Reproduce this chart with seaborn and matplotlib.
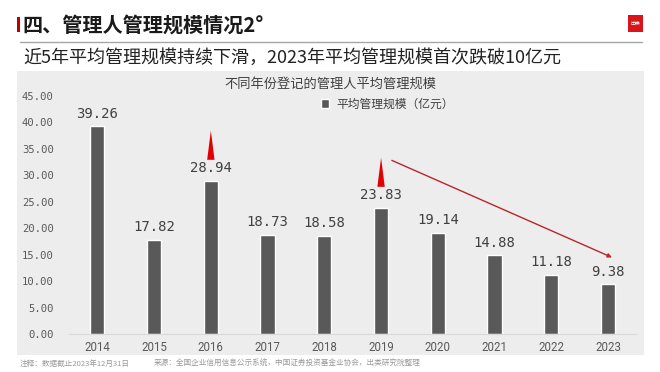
import numpy as np
import pandas as pd
import matplotlib
matplotlib.use('Agg')
import matplotlib.pyplot as plt
import seaborn as sn
from matplotlib.patches import Rectangle

# data
years = ['2014', '2015', '2016', '2017', '2018', '2019', '2020', '2021', '2022', '2023']
avg_scale = [39.26, 17.82, 28.94, 18.73, 18.58, 23.83, 19.14, 14.88, 11.18, 9.38]
peak_years = ['2016', '2019']
trend_from, trend_to = '2019', '2023'
y_ticks = [0, 5, 10, 15, 20, 25, 30, 35, 40, 45]

title = '四、管理人管理规模情况2°'
subtitle = '近5年平均管理规模持续下滑，2023年平均管理规模首次跌破10亿元'
chart_title = '不同年份登记的管理人平均管理规模'
series_name = '平均管理规模（亿元）'
note_text = '注释：数据截止2023年12月31日'
source_text = '来源：全国企业信用信息公示系统，中国证券投资基金业协会，出类研究院整理'

df = pd.DataFrame({'year': years, 'value': avg_scale})

sn.set_style('white')
plt.rcParams['font.family'] = ['DejaVu Sans', 'Noto Sans CJK SC']
CJK = ['Noto Sans CJK SC', 'DejaVu Sans']

W, H = 660, 372
fig = plt.figure(figsize=(W / 100, H / 100), dpi=100)
fig.patch.set_facecolor('white')


def fx(x):
    return x / W


def fy(y):
    return 1 - y / H


# gray panel behind the chart
fig.patches.append(Rectangle((fx(17), fy(355)), fx(644) - fx(17), fy(70.7) - fy(355),
                             transform=fig.transFigure, facecolor='#ededed', edgecolor='none', zorder=-10))

ax = fig.add_axes([fx(69), fy(334), fx(636.4) - fx(69), fy(96) - fy(334)])
ax.set_facecolor('none')
ax.set_zorder(2)

sn.barplot(data=df, x='year', y='value', color='#595959', width=0.25, saturation=1,
           label=series_name, ax=ax)
if ax.get_legend() is not None:
    ax.get_legend().remove()

ax.set_ylim(0, 45)
ax.set_xlim(-0.5, 9.5)
ax.set_yticks(y_ticks)
ax.set_yticklabels(['%.2f' % t for t in y_ticks], family='DejaVu Sans Mono', fontsize=7.6, color='#595959')
for lab in ax.get_xticklabels():
    lab.set_family('Roboto')
    lab.set_fontsize(8.3)
    lab.set_color('#595959')
ax.tick_params(axis='y', length=0, pad=11)
ax.tick_params(axis='x', length=0, pad=5)
ax.set_xlabel('')
ax.set_ylabel('')
for s in ['top', 'right', 'left']:
    ax.spines[s].set_visible(False)
ax.spines['bottom'].set_color('#d9d9d9')
ax.spines['bottom'].set_linewidth(0.8)

# value labels
for i, v in enumerate(avg_scale):
    ax.annotate('%.2f' % v, (i, v), xytext=(0, 4), textcoords='offset points',
                ha='center', va='bottom', family='DejaVu Sans Mono', fontsize=10, color='#404040')

# red spikes above the peaks
for yr in peak_years:
    i = years.index(yr)
    v = avg_scale[i]
    ax.fill([i - 0.065, i + 0.065, i], [v + 4.0, v + 4.0, v + 9.5], color='#e00000', lw=0, zorder=5)

# falling trend arrow
i0, i1 = years.index(trend_from), years.index(trend_to)
ax.annotate('', xy=(i1 + 0.07, avg_scale[i1] + 5.1), xytext=(i0 + 0.19, avg_scale[i0] + 9.0),
            arrowprops=dict(arrowstyle='-|>', color='#b8262b', lw=1, mutation_scale=6,
                            shrinkA=0, shrinkB=0))

# legend
handles, labels = ax.get_legend_handles_labels()
fig.legend(handles, labels, loc='center', bbox_to_anchor=(fx(387), fy(104)), frameon=False,
           prop={'family': CJK, 'size': 8.5}, handlelength=0.7, handleheight=0.7, handletextpad=0.6,
           labelcolor='#404040')

# header
fig.patches.append(Rectangle((fx(17), fy(32)), fx(2.5), fy(17) - fy(32), transform=fig.transFigure,
                             facecolor='#c00000', edgecolor='none'))
fig.text(fx(22), fy(25), title, family=CJK, fontsize=14.5, fontweight='bold', color='#1a1a1a',
         va='center', ha='left')
fig.add_artist(plt.Line2D([fx(20), fx(642)], [fy(42.3), fy(42.3)], transform=fig.transFigure,
                          color='#a6a6a6', lw=1))
fig.patches.append(Rectangle((fx(628), fy(32)), fx(15), fy(15) - fy(32), transform=fig.transFigure,
                             facecolor='#d9141b', edgecolor='none'))
fig.text(fx(635.5), fy(23), '出类', family=CJK, fontsize=3.5, color='white', ha='center', va='center')
fig.text(fx(23), fy(57.5), subtitle, family=CJK, fontsize=13, color='#222222', va='center', ha='left')
fig.text(fx(330), fy(84), chart_title, family=CJK, fontsize=9.5, color='#404040', va='center', ha='center')

# footnotes
fig.text(fx(20), fy(364), note_text, family=CJK, fontsize=5.5, color='#9a9a9a', va='center', ha='left')
fig.text(fx(154), fy(364), source_text, family=CJK, fontsize=5.5, color='#9a9a9a', va='center', ha='left')

plt.savefig('out.png', dpi=100, facecolor='white')
